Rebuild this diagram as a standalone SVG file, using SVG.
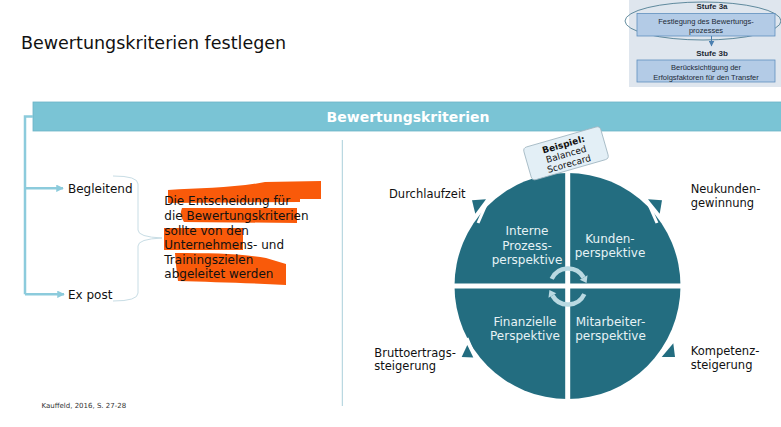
<svg xmlns="http://www.w3.org/2000/svg" width="781" height="427" viewBox="0 0 781 427">
<style>
  text { font-family: "DejaVu Sans", Verdana, sans-serif; }
  .t { font-size: 12px; fill: #111; }
  .r { font-size: 11.5px; fill: #111; }
  .q { font-size: 12px; fill: #e6f2f5; text-anchor: middle; }
  .ins { font-family: "Liberation Sans", Arial, sans-serif; font-size: 7.5px; fill: #1d2a36; text-anchor: middle; }
  .insb { font-family: "Liberation Sans", Arial, sans-serif; font-size: 8px; font-weight: bold; fill: #1d2a36; text-anchor: middle; }
  .hl { fill: #f95a0a; }
  .conn { stroke: #8ccbdc; stroke-width: 2.5; fill: none; }
  .cut { stroke: #ffffff; stroke-width: 3; }
  .tri { fill: #236d80; }
  .cyc { stroke: #b9d9e2; stroke-width: 4.5; fill: none; }
</style>
<defs>
  <marker id="ah" viewBox="0 0 10 10" refX="9" refY="5" markerWidth="3" markerHeight="3" orient="auto" markerUnits="strokeWidth">
    <path d="M0,0 L10,5 L0,10 Z" fill="#8ccbdc"/>
  </marker>
  <marker id="ah2" viewBox="0 0 10 10" refX="9" refY="5" markerWidth="6" markerHeight="6" orient="auto" markerUnits="userSpaceOnUse">
    <path d="M0,0 L10,5 L0,10 Z" fill="#4a7fb0"/>
  </marker>
</defs>
<rect width="781" height="427" fill="#ffffff"/>

<!-- title -->
<text id="title" x="21" y="49" style="font-size:17.5px;fill:#111">Bewertungskriterien festlegen</text>

<!-- inset top right -->
<g id="inset">
  <rect x="629" y="0" width="152" height="87" fill="#dfe6ee"/>
  <text class="insb" x="712" y="9">Stufe 3a</text>
  <ellipse cx="703" cy="21" rx="78" ry="19" fill="none" stroke="#3d7188" stroke-width="0.8"/>
  <rect x="637" y="13.5" width="138" height="22.5" fill="#b3cbe6" stroke="#5f8fbf" stroke-width="0.8"/>
  <text class="ins" x="706" y="23.5">Festlegung des Bewertungs-</text>
  <text class="ins" x="706" y="32.5">prozesses</text>
  <line x1="711.5" y1="36" x2="711.5" y2="46" stroke="#4a7fb0" stroke-width="1" marker-end="url(#ah2)"/>
  <text class="insb" x="712" y="56">Stufe 3b</text>
  <rect x="637" y="60" width="138" height="22" fill="#b3cbe6" stroke="#5f8fbf" stroke-width="0.8"/>
  <text class="ins" x="706" y="69.5">Berücksichtigung der</text>
  <text class="ins" x="706" y="80">Erfolgsfaktoren für den Transfer</text>
</g>

<!-- header bar -->
<g id="header">
  <rect x="33" y="102" width="750" height="29" fill="#7ac4d5" stroke="#6bb3c5" stroke-width="0.8"/>
  <text x="408" y="122" style="font-size:14px;font-weight:bold;fill:#ffffff" text-anchor="middle">Bewertungskriterien</text>
</g>

<!-- connectors -->
<g id="connectors">
  <path class="conn" d="M33,116.5 L25,116.5 L25,294.3"/>
  <line class="conn" x1="25" y1="188.3" x2="63" y2="188.3" marker-end="url(#ah)"/>
  <line class="conn" x1="25" y1="294.3" x2="64" y2="294.3" marker-end="url(#ah)"/>
  <path d="M113,176 Q138,176 138,184 L138,230 Q138,237 162,238 Q138,239 138,246 L138,293 Q138,301 113,301" fill="none" stroke="#c8dde5" stroke-width="1"/>
  <line x1="342.3" y1="140" x2="342.3" y2="406" stroke="#a9cfda" stroke-width="1"/>
</g>

<g id="begleitend"><text class="t" x="68" y="192.5">Begleitend</text></g>
<g id="expost"><text class="t" x="68" y="298.5">Ex post</text></g>

<!-- highlighted note -->
<g id="note">
  <path class="hl" d="M168,190 C200,188 235,188 265,182 L321,181 L321,199 L300,199 L300,202 L168,203 Z"/>
  <path class="hl" d="M182,208 L297,208 L297,223 L184,222 Q179,215 182,208 Z"/>
  <path class="hl" d="M164,228 L243,228 L243,250 L164,250 Z"/>
  <path class="hl" d="M175,253 C215,253 245,254 266,258 L286,264 L286,285 C250,283 210,282 178,281 L176,265 Z"/>
  <text class="t" x="164.3" y="204.5">Die Entscheidung für</text>
  <text class="t" x="164.3" y="219.5">die Bewertungskriterien</text>
  <text class="t" x="164.3" y="234.5">sollte von den</text>
  <text class="t" x="164.3" y="249">Unternehmens- und</text>
  <text class="t" x="164.3" y="263.5">Trainingszielen</text>
  <text class="t" x="164.3" y="278">abgeleitet werden</text>
</g>

<!-- balanced scorecard circle -->
<g id="scorecard">
  <circle cx="567.5" cy="286" r="113" fill="#236d80"/>
  <line x1="567.7" y1="165" x2="567.7" y2="402" stroke="#ffffff" stroke-width="5"/>
  <line x1="450" y1="286" x2="685" y2="286" stroke="#ffffff" stroke-width="5"/>
  <!-- perimeter arrow cuts -->
  <line class="cut" x1="489" y1="198" x2="478" y2="223"/>
  <polygon class="tri" points="472,200.3 486,199.3 475.3,213.7"/>
  <line class="cut" x1="646" y1="198" x2="657" y2="223"/>
  <polygon class="tri" points="662,200.3 648,199.3 659.7,213.7"/>
  <line class="cut" x1="467" y1="338" x2="479" y2="367"/>
  <polygon class="tri" points="461.7,357 467.3,345 473.3,357.5"/>
  <line class="cut" x1="670" y1="339" x2="654" y2="364"/>
  <polygon class="tri" points="661.7,357 673.3,343.3 675,357"/>
  <!-- cycle arrows -->
  <path class="cyc" d="M551.7,278.9 A18,18 0 0 1 583.6,277.5"/>
  <polygon fill="#b9d9e2" points="587.5,275.3 579.7,279.8 586.6,283"/>
  <path class="cyc" d="M584.3,294.1 A18,18 0 0 1 552.4,295.5"/>
  <polygon fill="#b9d9e2" points="548.5,297.8 556.3,293.3 549.4,290"/>
</g>

<g id="q-interne">
  <text class="q" x="527" y="235">Interne</text>
  <text class="q" x="527" y="249.5">Prozess-</text>
  <text class="q" x="527" y="264">perspektive</text>
</g>
<g id="q-kunden">
  <text class="q" x="610" y="242.5">Kunden-</text>
  <text class="q" x="610" y="256.5">perspektive</text>
</g>
<g id="q-finanz">
  <text class="q" x="525" y="326">Finanzielle</text>
  <text class="q" x="525" y="340">Perspektive</text>
</g>
<g id="q-mitarbeiter">
  <text class="q" x="610.5" y="326">Mitarbeiter-</text>
  <text class="q" x="610.5" y="340">perspektive</text>
</g>

<g id="callout" transform="translate(566,153.3) rotate(-16)">
  <rect x="-40" y="-17" width="80" height="34" rx="4" fill="#e3eff6" stroke="#9fb5c0" stroke-width="0.8"/>
  <text x="0" y="-6" style="font-size:9px;font-weight:bold;fill:#111" text-anchor="middle">Beispiel:</text>
  <text x="0" y="4" style="font-size:9px;fill:#111" text-anchor="middle">Balanced</text>
  <text x="0" y="14" style="font-size:9px;fill:#111" text-anchor="middle">Scorecard</text>
</g>

<g id="durchlaufzeit"><text class="r" x="389" y="197.5">Durchlaufzeit</text></g>
<g id="neukunden">
  <text class="r" x="690.7" y="192.5">Neukunden-</text>
  <text class="r" x="690.7" y="206.5">gewinnung</text>
</g>
<g id="brutto">
  <text class="r" x="374.3" y="356.5">Bruttoertrags-</text>
  <text class="r" x="374.3" y="370">steigerung</text>
</g>
<g id="kompetenz">
  <text class="r" x="690.7" y="355">Kompetenz-</text>
  <text class="r" x="690.7" y="368.5">steigerung</text>
</g>

<text id="source" x="41.5" y="407.5" style="font-size:7px;fill:#333">Kauffeld, 2016, S. 27-28</text>
</svg>
